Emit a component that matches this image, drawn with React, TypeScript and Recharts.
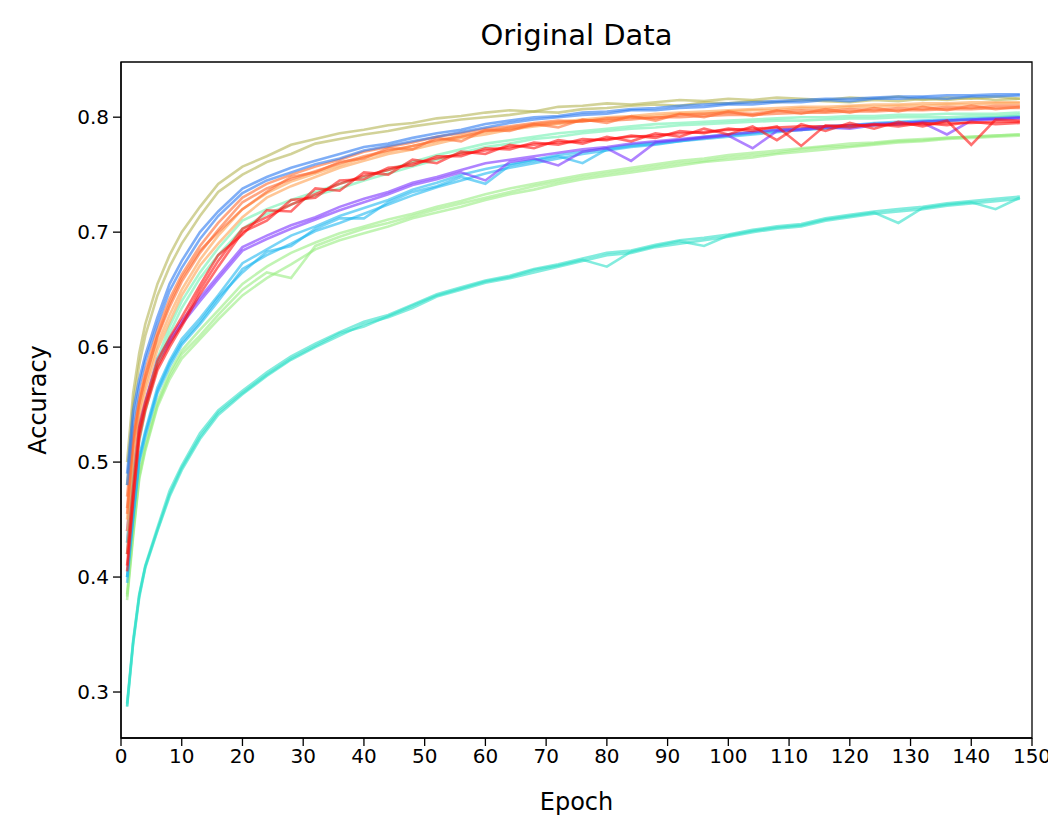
import React from "react";
import { LineChart, Line, XAxis, YAxis, ReferenceArea } from "recharts";

const epochs = [
  1, 2, 3, 4, 6, 8, 10, 13, 16, 20, 24, 28, 32, 36,
  40, 44, 48, 52, 56, 60, 64, 68, 72, 76, 80, 84, 88, 92,
  96, 100, 104, 108, 112, 116, 120, 124, 128, 132, 136, 140, 144, 148,
];

const xTicks = [0, 10, 20, 30, 40, 50, 60, 70, 80, 90, 100, 110, 120, 130, 140, 150];
const yTicks = [0.3, 0.4, 0.5, 0.6, 0.7, 0.8];

const khakiA = [
  0.50, 0.56, 0.595, 0.62, 0.655, 0.68, 0.70, 0.722, 0.742, 0.757, 0.766, 0.776, 0.781, 0.786,
  0.789, 0.793, 0.795, 0.799, 0.801, 0.804, 0.806, 0.805, 0.809, 0.810, 0.812, 0.811, 0.813, 0.815,
  0.814, 0.816, 0.815, 0.817, 0.816, 0.815, 0.817, 0.816, 0.818, 0.815, 0.817, 0.816, 0.818, 0.816,
];
const khakiB = [
  0.48, 0.55, 0.585, 0.61, 0.645, 0.67, 0.69, 0.714, 0.735, 0.75, 0.761, 0.768, 0.777, 0.781,
  0.785, 0.788, 0.792, 0.795, 0.798, 0.800, 0.802, 0.805, 0.804, 0.807, 0.808, 0.810, 0.811, 0.810,
  0.813, 0.812, 0.814, 0.813, 0.815, 0.814, 0.813, 0.815, 0.814, 0.816, 0.815, 0.817, 0.815, 0.816,
];
const blueA = [
  0.49, 0.545, 0.572, 0.593, 0.626, 0.655, 0.675, 0.70, 0.718, 0.738, 0.748, 0.756, 0.762, 0.768,
  0.774, 0.777, 0.782, 0.786, 0.789, 0.794, 0.797, 0.800, 0.801, 0.804, 0.805, 0.807, 0.808, 0.810,
  0.811, 0.812, 0.813, 0.814, 0.815, 0.816, 0.816, 0.817, 0.818, 0.818, 0.819, 0.819, 0.820, 0.820,
];
const blueB = [
  0.48, 0.535, 0.566, 0.588, 0.62, 0.649, 0.669, 0.694, 0.714, 0.734, 0.745, 0.752, 0.759, 0.764,
  0.771, 0.775, 0.779, 0.783, 0.787, 0.791, 0.795, 0.798, 0.800, 0.802, 0.803, 0.806, 0.806, 0.808,
  0.809, 0.811, 0.811, 0.813, 0.813, 0.815, 0.814, 0.816, 0.816, 0.817, 0.816, 0.818, 0.818, 0.819,
];
const orangeA = [
  0.47, 0.525, 0.556, 0.58, 0.615, 0.642, 0.663, 0.688, 0.708, 0.73, 0.742, 0.75, 0.757, 0.763,
  0.77, 0.774, 0.778, 0.783, 0.786, 0.79, 0.792, 0.795, 0.797, 0.796, 0.799, 0.800, 0.799, 0.802,
  0.803, 0.804, 0.803, 0.805, 0.806, 0.805, 0.807, 0.806, 0.808, 0.807, 0.809, 0.808, 0.810, 0.810,
];
const orangeB = [
  0.455, 0.515, 0.55, 0.572, 0.609, 0.635, 0.657, 0.682, 0.702, 0.726, 0.738, 0.746, 0.753, 0.76,
  0.766, 0.771, 0.775, 0.78, 0.783, 0.788, 0.79, 0.793, 0.795, 0.797, 0.797, 0.798, 0.800, 0.800,
  0.801, 0.802, 0.802, 0.803, 0.804, 0.804, 0.805, 0.805, 0.806, 0.806, 0.807, 0.807, 0.808, 0.808,
];
const orangeC = [
  0.46, 0.52, 0.552, 0.575, 0.61, 0.638, 0.66, 0.684, 0.70, 0.72, 0.735, 0.748, 0.752, 0.761,
  0.764, 0.773, 0.772, 0.782, 0.779, 0.789, 0.788, 0.794, 0.791, 0.798, 0.795, 0.801, 0.797, 0.803,
  0.8, 0.805, 0.801, 0.806, 0.803, 0.807, 0.804, 0.808, 0.805, 0.809, 0.806, 0.81, 0.807, 0.809,
];
const peachA = [
  0.45, 0.51, 0.545, 0.568, 0.603, 0.628, 0.65, 0.676, 0.697, 0.72, 0.734, 0.744, 0.751, 0.758,
  0.765, 0.77, 0.775, 0.779, 0.784, 0.787, 0.791, 0.794, 0.796, 0.798, 0.800, 0.801, 0.803, 0.804,
  0.805, 0.806, 0.807, 0.808, 0.809, 0.809, 0.810, 0.811, 0.811, 0.812, 0.812, 0.813, 0.813, 0.813,
];
const peachB = [
  0.44, 0.50, 0.538, 0.562, 0.598, 0.622, 0.645, 0.671, 0.69, 0.713, 0.73, 0.74, 0.748, 0.756,
  0.762, 0.768, 0.772, 0.777, 0.782, 0.785, 0.789, 0.792, 0.794, 0.797, 0.798, 0.8, 0.801, 0.803,
  0.803, 0.805, 0.806, 0.806, 0.808, 0.807, 0.809, 0.809, 0.81, 0.81, 0.811, 0.811, 0.812, 0.812,
];
const aquaA = [
  0.43, 0.49, 0.525, 0.55, 0.59, 0.618, 0.64, 0.665, 0.686, 0.71, 0.72, 0.728, 0.735, 0.742,
  0.748, 0.754, 0.761, 0.767, 0.772, 0.777, 0.78, 0.783, 0.786, 0.788, 0.79, 0.792, 0.794, 0.795,
  0.796, 0.797, 0.798, 0.799, 0.8, 0.8, 0.801, 0.801, 0.802, 0.802, 0.803, 0.803, 0.803, 0.804,
];
const aquaB = [
  0.42, 0.482, 0.518, 0.544, 0.584, 0.612, 0.634, 0.66, 0.68, 0.703, 0.716, 0.724, 0.732, 0.738,
  0.745, 0.751, 0.757, 0.763, 0.769, 0.774, 0.777, 0.781, 0.783, 0.786, 0.788, 0.79, 0.791, 0.793,
  0.794, 0.795, 0.796, 0.797, 0.797, 0.798, 0.799, 0.799, 0.8, 0.8, 0.8, 0.801, 0.801, 0.802,
];
const redA = [
  0.41, 0.47, 0.525, 0.548, 0.583, 0.603, 0.62, 0.65, 0.675, 0.703, 0.713, 0.724, 0.733, 0.742,
  0.749, 0.754, 0.76, 0.764, 0.768, 0.771, 0.774, 0.776, 0.778, 0.779, 0.781, 0.783, 0.784, 0.786,
  0.787, 0.789, 0.79, 0.791, 0.792, 0.792, 0.793, 0.793, 0.794, 0.794, 0.795, 0.795, 0.796, 0.796,
];
const redB = [
  0.42, 0.478, 0.53, 0.552, 0.588, 0.608, 0.626, 0.654, 0.68, 0.698, 0.719, 0.718, 0.738, 0.736,
  0.752, 0.75, 0.763, 0.76, 0.77, 0.768, 0.776, 0.773, 0.78, 0.777, 0.783, 0.779, 0.786, 0.783,
  0.79, 0.785, 0.792, 0.78, 0.794, 0.788, 0.795, 0.79, 0.796, 0.792, 0.797, 0.776, 0.798, 0.797,
];
const redC = [
  0.405, 0.465, 0.52, 0.545, 0.58, 0.6, 0.618, 0.646, 0.67, 0.70, 0.71, 0.728, 0.73, 0.745,
  0.746, 0.756, 0.758, 0.766, 0.766, 0.773, 0.772, 0.778, 0.776, 0.781, 0.78, 0.784, 0.782, 0.788,
  0.786, 0.79, 0.788, 0.792, 0.775, 0.793, 0.791, 0.794, 0.792, 0.795, 0.793, 0.796, 0.794, 0.795,
];
const purpleA = [
  0.44, 0.49, 0.534, 0.553, 0.59, 0.607, 0.623, 0.643, 0.662, 0.687, 0.697, 0.706, 0.713, 0.722,
  0.729, 0.735, 0.743, 0.748, 0.754, 0.76, 0.763, 0.766, 0.769, 0.772, 0.774, 0.777, 0.779, 0.781,
  0.783, 0.785, 0.787, 0.789, 0.79, 0.792, 0.793, 0.794, 0.795, 0.796, 0.797, 0.798, 0.799, 0.8,
];
const purpleB = [
  0.43, 0.485, 0.53, 0.55, 0.586, 0.604, 0.62, 0.64, 0.659, 0.684, 0.694, 0.703, 0.711, 0.719,
  0.726, 0.733, 0.741, 0.746, 0.752, 0.745, 0.761, 0.764, 0.758, 0.77, 0.773, 0.762, 0.778, 0.78,
  0.782, 0.784, 0.773, 0.788, 0.789, 0.791, 0.79, 0.793, 0.794, 0.795, 0.785, 0.797, 0.798, 0.799,
];
const cyanA = [
  0.40, 0.455, 0.505, 0.527, 0.565, 0.588, 0.607, 0.625, 0.645, 0.673, 0.685, 0.697, 0.705, 0.714,
  0.721, 0.728, 0.737, 0.743, 0.75, 0.755, 0.759, 0.763, 0.767, 0.77, 0.773, 0.776, 0.778, 0.78,
  0.783, 0.785, 0.787, 0.789, 0.79, 0.792, 0.793, 0.795, 0.796, 0.797, 0.798, 0.799, 0.8, 0.801,
];
const cyanB = [
  0.395, 0.45, 0.5, 0.522, 0.56, 0.583, 0.602, 0.62, 0.64, 0.668, 0.68, 0.69, 0.701, 0.708,
  0.716, 0.724, 0.732, 0.739, 0.745, 0.751, 0.756, 0.76, 0.764, 0.768, 0.771, 0.774, 0.776, 0.779,
  0.781, 0.783, 0.785, 0.787, 0.789, 0.79, 0.792, 0.793, 0.794, 0.796, 0.797, 0.798, 0.799, 0.8,
];
const cyanC = [
  0.40, 0.452, 0.502, 0.525, 0.562, 0.586, 0.604, 0.622, 0.643, 0.665, 0.683, 0.688, 0.703, 0.712,
  0.712, 0.726, 0.735, 0.74, 0.748, 0.742, 0.758, 0.762, 0.766, 0.76, 0.772, 0.775, 0.777, 0.779,
  0.782, 0.784, 0.786, 0.788, 0.789, 0.791, 0.792, 0.794, 0.795, 0.796, 0.797, 0.798, 0.799, 0.8,
];
const greenA = [
  0.385, 0.44, 0.49, 0.515, 0.553, 0.578, 0.597, 0.615, 0.632, 0.655, 0.67, 0.682, 0.691, 0.699,
  0.705, 0.711, 0.716, 0.722, 0.727, 0.733, 0.738, 0.742, 0.746, 0.75, 0.753, 0.756, 0.759, 0.762,
  0.764, 0.767, 0.769, 0.771, 0.773, 0.775, 0.777, 0.778, 0.78, 0.781, 0.782, 0.783, 0.784, 0.785,
];
const greenB = [
  0.38, 0.435, 0.485, 0.51, 0.548, 0.572, 0.59, 0.607, 0.624, 0.645, 0.66, 0.672, 0.685, 0.693,
  0.699, 0.705, 0.712, 0.717, 0.722, 0.728, 0.733, 0.737, 0.742, 0.746, 0.749, 0.752, 0.755, 0.758,
  0.761, 0.763, 0.765, 0.768, 0.77, 0.772, 0.774, 0.776, 0.778, 0.779, 0.781, 0.782, 0.783, 0.784,
];
const greenC = [
  0.383, 0.438, 0.487, 0.512, 0.55, 0.575, 0.594, 0.61, 0.628, 0.65, 0.665, 0.66, 0.688, 0.696,
  0.703, 0.708, 0.714, 0.72, 0.725, 0.73, 0.735, 0.74, 0.744, 0.748, 0.751, 0.754, 0.757, 0.76,
  0.762, 0.765, 0.767, 0.769, 0.772, 0.774, 0.775, 0.777, 0.779, 0.78, 0.782, 0.783, 0.784, 0.785,
];
const turqA = [
  0.29, 0.345, 0.385, 0.41, 0.443, 0.475, 0.497, 0.525, 0.545, 0.562, 0.578, 0.592, 0.603, 0.613,
  0.622, 0.628, 0.637, 0.646, 0.652, 0.658, 0.662, 0.668, 0.672, 0.677, 0.682, 0.684, 0.689, 0.693,
  0.695, 0.698, 0.702, 0.705, 0.707, 0.712, 0.715, 0.718, 0.72, 0.722, 0.725, 0.727, 0.729, 0.731,
];
const turqB = [
  0.287, 0.342, 0.382, 0.408, 0.44, 0.47, 0.493, 0.52, 0.541, 0.559, 0.575, 0.589, 0.6, 0.61,
  0.62, 0.626, 0.634, 0.644, 0.65, 0.656, 0.66, 0.665, 0.67, 0.675, 0.68, 0.682, 0.687, 0.69,
  0.693, 0.696, 0.7, 0.703, 0.705, 0.71, 0.713, 0.716, 0.718, 0.72, 0.723, 0.725, 0.727, 0.729,
];
const turqC = [
  0.288, 0.343, 0.384, 0.409, 0.441, 0.472, 0.495, 0.522, 0.543, 0.56, 0.576, 0.59, 0.601, 0.612,
  0.618, 0.627, 0.636, 0.645, 0.651, 0.657, 0.661, 0.667, 0.671, 0.676, 0.67, 0.683, 0.688, 0.692,
  0.688, 0.697, 0.701, 0.704, 0.706, 0.711, 0.714, 0.717, 0.708, 0.721, 0.724, 0.726, 0.72, 0.73,
];

const C_TURQ = "#30e0c8";
const C_GREEN = "#98ec80";
const C_CYAN = "#20b8f0";
const C_PURPLE = "#7a30ff";
const C_AQUA = "#70f0b0";
const C_PEACH = "#ffa050";
const C_KHAKI = "#b4b454";
const C_ORANGE = "#ff6a30";
const C_BLUE = "#2a78f0";
const C_RED = "#ff1010";

const series = [
  { key: "turqA", values: turqA, color: C_TURQ },
  { key: "turqB", values: turqB, color: C_TURQ },
  { key: "turqC", values: turqC, color: C_TURQ },
  { key: "greenA", values: greenA, color: C_GREEN },
  { key: "greenB", values: greenB, color: C_GREEN },
  { key: "greenC", values: greenC, color: C_GREEN },
  { key: "cyanA", values: cyanA, color: C_CYAN },
  { key: "cyanB", values: cyanB, color: C_CYAN },
  { key: "cyanC", values: cyanC, color: C_CYAN },
  { key: "purpleA", values: purpleA, color: C_PURPLE },
  { key: "purpleB", values: purpleB, color: C_PURPLE },
  { key: "aquaA", values: aquaA, color: C_AQUA },
  { key: "aquaB", values: aquaB, color: C_AQUA },
  { key: "peachA", values: peachA, color: C_PEACH },
  { key: "peachB", values: peachB, color: C_PEACH },
  { key: "khakiA", values: khakiA, color: C_KHAKI },
  { key: "khakiB", values: khakiB, color: C_KHAKI },
  { key: "orangeA", values: orangeA, color: C_ORANGE },
  { key: "orangeB", values: orangeB, color: C_ORANGE },
  { key: "orangeC", values: orangeC, color: C_ORANGE },
  { key: "blueA", values: blueA, color: C_BLUE },
  { key: "blueB", values: blueB, color: C_BLUE },
  { key: "redA", values: redA, color: C_RED },
  { key: "redB", values: redB, color: C_RED },
  { key: "redC", values: redC, color: C_RED },
];

const data = epochs.map((epoch, i) => {
  const row: Record<string, number> = { epoch };
  series.forEach((s) => {
    row[s.key] = s.values[i];
  });
  return row;
});

const Y_MIN = 0.26;
const Y_MAX = 0.848;
const FONT = "DejaVu Sans";

export default function App() {
  return (
    <div style={{ position: "relative", width: 1048, height: 808, fontFamily: FONT }}>
      <div
        style={{
          position: "absolute",
          left: 113,
          width: 911,
          top: 10,
          textAlign: "center",
          fontSize: 29,
          lineHeight: "34px",
          color: "#000",
        }}
      >
        Original Data
      </div>
      <LineChart
        width={1048}
        height={808}
        data={data}
        margin={{ top: 54, right: 24, bottom: 0, left: 0 }}
      >
        <XAxis
          dataKey="epoch"
          type="number"
          domain={[0, 150]}
          ticks={xTicks}
          interval={0}
          allowDataOverflow
          height={78}
          tickSize={8}
          tickMargin={3}
          stroke="#000"
          axisLine={{ stroke: "#000", strokeWidth: 1.3 }}
          tickLine={{ stroke: "#000", strokeWidth: 1.3 }}
          tick={{ fill: "#000", fontSize: 20, fontFamily: FONT }}
          label={{
            value: "Epoch",
            position: "insideBottom",
            offset: 6,
            fill: "#000",
            fontSize: 24,
            fontFamily: FONT,
          }}
        />
        <YAxis
          type="number"
          domain={[Y_MIN, Y_MAX]}
          ticks={yTicks}
          interval={0}
          allowDataOverflow
          width={113}
          tickSize={8}
          tickMargin={4}
          tickFormatter={(v: number) => v.toFixed(1)}
          stroke="#000"
          axisLine={{ stroke: "#000", strokeWidth: 1.3 }}
          tickLine={{ stroke: "#000", strokeWidth: 1.3 }}
          tick={{ fill: "#000", fontSize: 20, fontFamily: FONT }}
          label={{
            value: "Accuracy",
            angle: -90,
            position: "insideLeft",
            offset: 29,
            textAnchor: "middle",
            fill: "#000",
            fontSize: 24,
            fontFamily: FONT,
          }}
        />
        <ReferenceArea
          x1={0}
          x2={150}
          y1={Y_MIN}
          y2={Y_MAX}
          fill="none"
          fillOpacity={0}
          stroke="#000"
          strokeWidth={1.3}
          ifOverflow="visible"
        />
        {series.map((s) => (
          <Line
            key={s.key}
            dataKey={s.key}
            type="linear"
            stroke={s.color}
            strokeWidth={2.6}
            strokeOpacity={0.6}
            dot={false}
            activeDot={false}
            isAnimationActive={false}
          />
        ))}
      </LineChart>
    </div>
  );
}
